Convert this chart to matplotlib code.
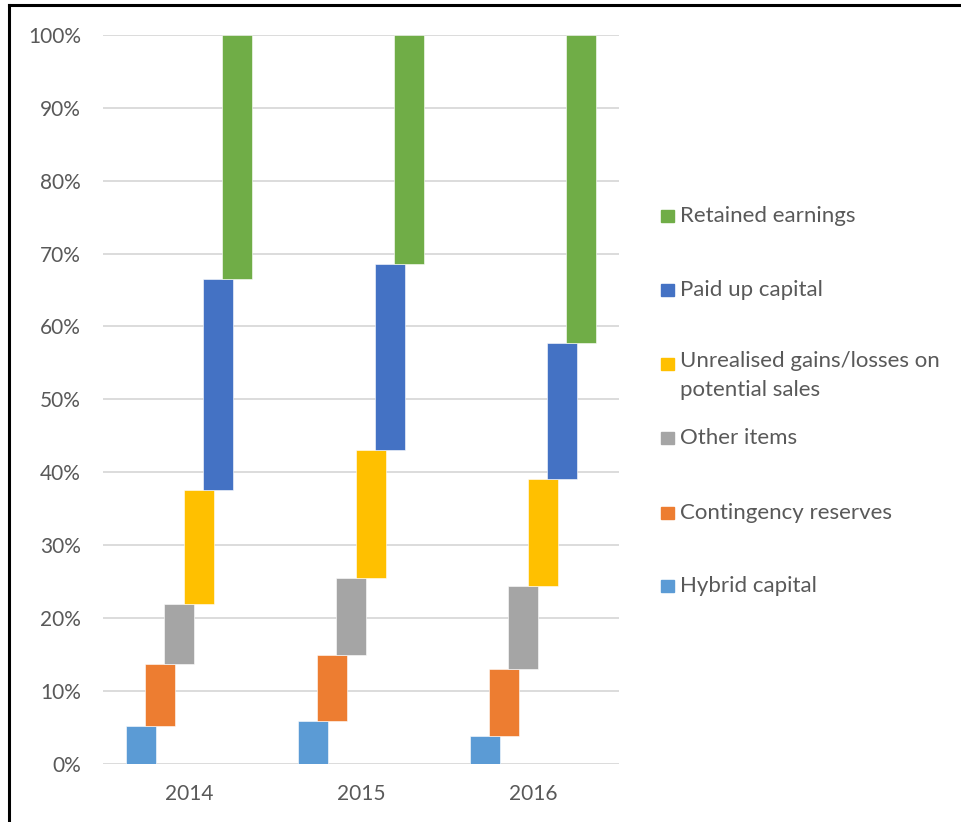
"""Capital composition by year, drawn as floating (waterfall style) segments."""

import matplotlib

matplotlib.use("Agg")
import matplotlib.pyplot as plt
from matplotlib.lines import Line2D
from matplotlib.patches import Rectangle
from matplotlib.ticker import PercentFormatter

years = ["2014", "2015", "2016"]
series = [
    "Hybrid capital",
    "Contingency reserves",
    "Other items",
    "Unrealised gains/losses on\npotential sales",
    "Paid up capital",
    "Retained earnings",
]
colors = ["#5B9BD5", "#ED7D31", "#A5A5A5", "#FFC000", "#4472C4", "#70AD47"]

# cumulative top of each segment (%), per year, in series order
tops_2014 = [5.2, 13.7, 21.9, 37.6, 66.5, 100.0]
tops_2015 = [5.8, 14.9, 25.5, 43.1, 68.6, 100.0]
tops_2016 = [3.8, 13.0, 24.4, 39.0, 57.7, 100.0]
tops = [tops_2014, tops_2015, tops_2016]

TEXT = "#595959"
GRID = "#D9D9D9"
plt.rcParams["font.family"] = ["Lato", "DejaVu Sans"]

fig = plt.figure(figsize=(9.62, 8.22), dpi=100)
ax = fig.add_axes([103 / 962, 1 - 763.5 / 822, 516 / 962, 728.5 / 822])

step = 0.1116
width = 0.1744
for i, year_tops in enumerate(tops):
    bottom = 0.0
    for k, top in enumerate(year_tops):
        x = i + (k - 2.5) * step
        ax.bar(x, top - bottom, bottom=bottom, width=width, color=colors[k],
               edgecolor="white", linewidth=0.4, zorder=3)
        bottom = top

ax.set_xlim(-0.5, 2.5)
ax.set_ylim(0, 100)
ax.set_xticks(range(len(years)))
ax.set_xticklabels(years)
ax.set_yticks(range(0, 101, 10))
ax.yaxis.set_major_formatter(PercentFormatter(decimals=0))
ax.tick_params(length=0, labelsize=15, colors=TEXT)
ax.tick_params(axis="y", pad=16)
ax.tick_params(axis="x", pad=15)
ax.grid(axis="y", color=GRID, linewidth=1.3, zorder=0)
for spine in ax.spines.values():
    spine.set_visible(False)

# legend, top entry first, placed to the right of the plot
legend_y = [216, 290, 364, 438, 513, 586]
for y, label, color in zip(legend_y, reversed(series), reversed(colors)):
    fig.patches.append(Rectangle((661 / 962, 1 - (y + 6) / 822), 13 / 962, 12 / 822,
                                 transform=fig.transFigure, color=color))
    if "\n" in label:
        fig.text(680 / 962, 1 - (y - 13) / 822, label, fontsize=16, color=TEXT,
                 va="top", linespacing=1.55)
    else:
        fig.text(680 / 962, 1 - y / 822, label, fontsize=16, color=TEXT, va="center")

# frame around the image (top and left edges)
fig.add_artist(Line2D([9 / 962, 1], [1 - 5 / 822, 1 - 5 / 822], color="black", linewidth=2.2))
fig.add_artist(Line2D([9 / 962, 9 / 962], [0, 1 - 5 / 822], color="black", linewidth=2.2))

fig.savefig("out.png", dpi=100)
